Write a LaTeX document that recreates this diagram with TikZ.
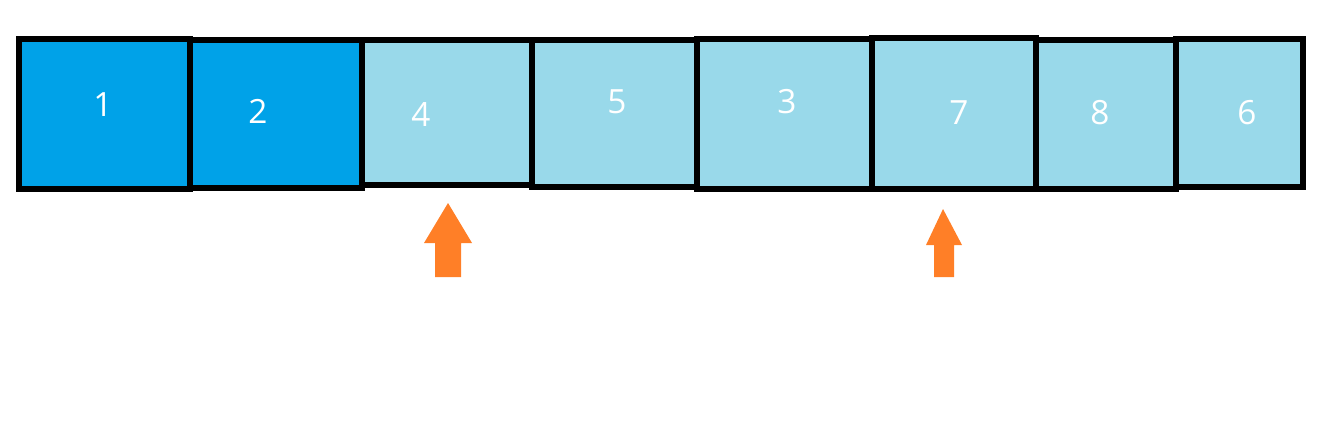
\documentclass[tikz,border=0pt]{standalone}
\usepackage{fontspec}
\setmainfont{Open Sans}
\usepackage{tikz}
\usetikzlibrary{calc}
\definecolor{cellblue}{HTML}{00A2E8}
\definecolor{celllight}{HTML}{99D9EA}
\definecolor{markorange}{HTML}{FF7F27}

\begin{document}
\begin{tikzpicture}[x=0.02cm,y=-0.02cm,
    cellbox/.style={draw=black,line width=0.12cm},
    celltext/.style={text=white,font=\fontsize{19}{19}\selectfont,inner sep=0pt}]
  \useasboundingbox (0,0) rectangle (1327,424);
  % cells (hand drawn, so edges differ a little)
  \draw[cellbox,fill=cellblue]  (19,39)   rectangle (190,189);
  \draw[cellbox,fill=cellblue]  (190,40)  rectangle (362,188);
  \draw[cellbox,fill=celllight] (362,40)  rectangle (532,185);
  \draw[cellbox,fill=celllight] (532,40)  rectangle (697,187);
  \draw[cellbox,fill=celllight] (697,39)  rectangle (872,189);
  \draw[cellbox,fill=celllight] (872,38)  rectangle (1036,189);
  \draw[cellbox,fill=celllight] (1036,40) rectangle (1176,189);
  \draw[cellbox,fill=celllight] (1176,39) rectangle (1303,187);
  % labels
  \node[celltext] (n1) at (103,105)  {1};
  \node[celltext] (n2) at (258,111)  {2};
  \node[celltext] (n4) at (421,115)  {4};
  \node[celltext] (n5) at (617,102)  {5};
  \node[celltext] (n3) at (787,102)  {3};
  \node[celltext] (n7) at (959,113)  {7};
  \node[celltext] (n8) at (1100,113) {8};
  \node[celltext] (n6) at (1247,113) {6};
  % pointers
  \fill[markorange] (448,203) -- (472,243) -- (461,243) -- (461,277)
    -- (435,277) -- (435,243) -- (424,243) -- cycle;
  \fill[markorange] (943,209) -- (962,245) -- (954,245) -- (954,277)
    -- (934,277) -- (934,245) -- (926,245) -- cycle;
\end{tikzpicture}
\end{document}
